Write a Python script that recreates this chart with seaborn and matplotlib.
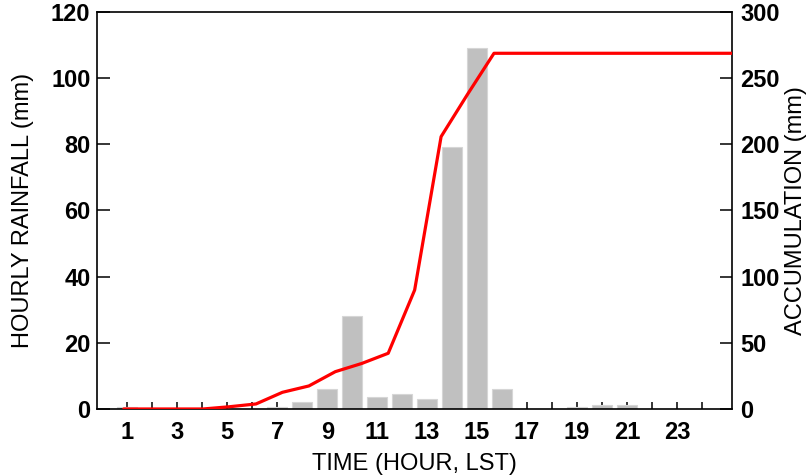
import matplotlib
matplotlib.use("Agg")
import matplotlib.pyplot as plt
import seaborn as sns
import pandas as pd

# ---- data ----
hours = list(range(1, 25))
hourly_rain = [0.5, 0, 0, 0, 0, 0, 0.6, 2.2, 6.0, 28.1, 3.5, 4.5,
               3.0, 79.2, 109.0, 6.0, 0, 0, 0.7, 1.1, 1.1, 0, 0, 0]
accumulation = [0, 0, 0, 0, 1.7, 3.8, 12.6, 17.4, 28.2, 34.4, 42.1, 89.9,
                205.8, 237.8, 268.8, 268.8, 268.8, 268.8, 268.8, 268.8,
                268.8, 268.8, 268.8, 268.8]
xtick_labels = [str(h) if h % 2 == 1 else "" for h in hours]
left_ticks = [0, 20, 40, 60, 80, 100, 120]
right_ticks = [0, 50, 100, 150, 200, 250, 300]

sns.set_theme(style="white")
plt.rcParams["font.family"] = ["Liberation Sans", "DejaVu Sans"]

fig = plt.figure(figsize=(8.09, 4.76), dpi=100)
rect = [0.1203, 0.1408, 0.7845, 0.834]
ax = fig.add_axes(rect)

df = pd.DataFrame({"hour": hours, "rain": hourly_rain})
sns.barplot(data=df, x="hour", y="rain", native_scale=True, color="#c0c0c0",
            saturation=1, width=0.8, edgecolor="#d6d6d6", linewidth=0.8,
            errorbar=None, ax=ax)
ax.set_xlim(-0.2, 25.2)
ax.set_ylim(0, 120)
ax.set_xticks(hours)
ax.set_xticklabels(xtick_labels)
ax.set_yticks(left_ticks)
ax.set_yticklabels([str(t) for t in left_ticks])
ax.tick_params(axis="x", direction="in", length=5, width=1.1, pad=9,
               labelsize=17, bottom=True, colors="black")
ax.tick_params(axis="y", direction="in", length=9, width=1.1, pad=5,
               labelsize=17, left=True, colors="black")
for lab in ax.get_xticklabels() + ax.get_yticklabels():
    lab.set_fontweight("bold")
ax.set_xlabel("TIME (HOUR, LST)", fontsize=17, labelpad=6, color="black")
ax.set_ylabel("HOURLY RAINFALL (mm)", fontsize=17, labelpad=12, color="black")
for s in ax.spines.values():
    s.set_color("black")
    s.set_linewidth(1.2)

# accumulation curve on its own overlaid axes
ax2 = fig.add_axes(rect, frameon=False)
acc_df = pd.DataFrame({"hour": hours, "acc": accumulation})
sns.lineplot(data=acc_df, x="hour", y="acc", color="red", linewidth=2.3,
             ax=ax2)
ax2.set_xlim(0, 24)
ax2.set_ylim(0, 300)
ax2.xaxis.set_visible(False)
ax2.yaxis.tick_right()
ax2.yaxis.set_label_position("right")
ax2.set_yticks(right_ticks)
ax2.set_yticklabels([str(t) for t in right_ticks])
ax2.tick_params(axis="y", direction="in", length=9, width=1.1, pad=6,
                labelsize=17, right=True, left=False, colors="black")
for lab in ax2.get_yticklabels():
    lab.set_fontweight("bold")
ax2.set_ylabel("ACCUMULATION (mm)", fontsize=17, labelpad=4, color="black")

fig.savefig("out.png", dpi=100)
